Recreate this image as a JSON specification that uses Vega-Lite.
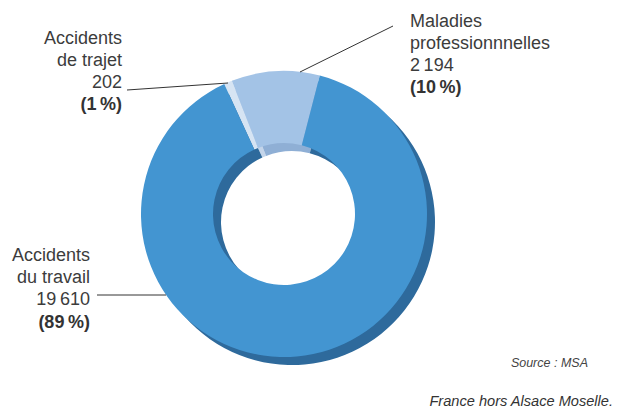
{
  "$schema": "https://vega.github.io/schema/vega-lite/v6.json",
  "width": 568,
  "height": 398,
  "autosize": "none",
  "padding": {"left": 0, "top": 15, "right": 50, "bottom": 0},
  "background": "white",
  "config": {"view": {"stroke": null}, "text": {"font": "Liberation Sans"}},
  "data": {
    "values": [
      {"category": "Accidents de trajet", "value": 202, "rank": 1},
      {"category": "Maladies professionnnelles", "value": 2194, "rank": 2},
      {"category": "Accidents du travail", "value": 19610, "rank": 3}
    ]
  },
  "layer": [
    {
      "mark": {"type": "arc", "outerRadius": 143, "innerRadius": 71, "xOffset": 8, "yOffset": 8},
      "encoding": {
        "theta": {"field": "value", "type": "quantitative", "stack": true, "scale": {"range": [-0.4311, 5.8521]}},
        "order": {"field": "rank", "type": "quantitative"},
        "color": {
          "field": "category", "type": "nominal", "legend": null,
          "scale": {"domain": ["Accidents du travail", "Maladies professionnnelles", "Accidents de trajet"], "range": ["#2E6A9C", "#8FAFD5", "#C4D5EA"]}
        }
      }
    },
    {
      "mark": {"type": "arc", "outerRadius": 143, "innerRadius": 71},
      "encoding": {
        "theta": {"field": "value", "type": "quantitative", "stack": true, "scale": {"range": [-0.4311, 5.8521]}},
        "order": {"field": "rank", "type": "quantitative"},
        "color": {
          "field": "category", "type": "nominal", "legend": null,
          "scale": {"domain": ["Accidents du travail", "Maladies professionnnelles", "Accidents de trajet"], "range": ["#4395D1", "#A3C3E6", "#D6E4F3"]}
        }
      }
    },
    {
      "data": {"values": [{}]},
      "mark": {"type": "rule", "color": "#333333", "strokeWidth": 1},
      "encoding": {"x": {"value": 127}, "x2": {"value": 228}, "y": {"value": 75}, "y2": {"value": 68}}
    },
    {
      "data": {"values": [{}]},
      "mark": {"type": "rule", "color": "#333333", "strokeWidth": 1},
      "encoding": {"x": {"value": 300}, "x2": {"value": 393}, "y": {"value": 57}, "y2": {"value": 11}}
    },
    {
      "data": {"values": [{}]},
      "mark": {"type": "rule", "color": "#333333", "strokeWidth": 1},
      "encoding": {"x": {"value": 97}, "x2": {"value": 166}, "y": {"value": 280}, "y2": {"value": 280}}
    },
    {
      "data": {"values": [{}]},
      "mark": {"type": "text", "align": "right", "baseline": "alphabetic", "fontSize": 18, "lineHeight": 22, "color": "#3c3c3c"},
      "encoding": {"x": {"value": 122}, "y": {"value": 29}, "text": {"value": ["Accidents", "de trajet", "202"]}}
    },
    {
      "data": {"values": [{}]},
      "mark": {"type": "text", "align": "right", "baseline": "alphabetic", "fontSize": 18, "fontWeight": "bold", "color": "#333333"},
      "encoding": {"x": {"value": 122}, "y": {"value": 95}, "text": {"value": "(1\u2009%)"}}
    },
    {
      "data": {"values": [{}]},
      "mark": {"type": "text", "align": "left", "baseline": "alphabetic", "fontSize": 18, "lineHeight": 22, "color": "#3c3c3c"},
      "encoding": {"x": {"value": 410}, "y": {"value": 12}, "text": {"value": ["Maladies", "professionnnelles", "2\u2009194"]}}
    },
    {
      "data": {"values": [{}]},
      "mark": {"type": "text", "align": "left", "baseline": "alphabetic", "fontSize": 18, "fontWeight": "bold", "color": "#333333"},
      "encoding": {"x": {"value": 410}, "y": {"value": 78}, "text": {"value": "(10\u2009%)"}}
    },
    {
      "data": {"values": [{}]},
      "mark": {"type": "text", "align": "right", "baseline": "alphabetic", "fontSize": 18, "lineHeight": 22, "color": "#3c3c3c"},
      "encoding": {"x": {"value": 90}, "y": {"value": 246}, "text": {"value": ["Accidents", "du travail", "19\u2009610"]}}
    },
    {
      "data": {"values": [{}]},
      "mark": {"type": "text", "align": "right", "baseline": "alphabetic", "fontSize": 18, "fontWeight": "bold", "color": "#333333"},
      "encoding": {"x": {"value": 90}, "y": {"value": 313}, "text": {"value": "(89\u2009%)"}}
    },
    {
      "data": {"values": [{}]},
      "mark": {"type": "text", "align": "right", "baseline": "alphabetic", "fontSize": 12.5, "fontStyle": "italic", "color": "#444444"},
      "encoding": {"x": {"value": 588}, "y": {"value": 352}, "text": {"value": "Source : MSA"}}
    },
    {
      "data": {"values": [{}]},
      "mark": {"type": "text", "align": "right", "baseline": "alphabetic", "fontSize": 14.6, "fontStyle": "italic", "color": "#333333"},
      "encoding": {"x": {"value": 613}, "y": {"value": 391}, "text": {"value": "France hors Alsace Moselle."}}
    }
  ],
  "resolve": {"scale": {"color": "independent"}}
}
